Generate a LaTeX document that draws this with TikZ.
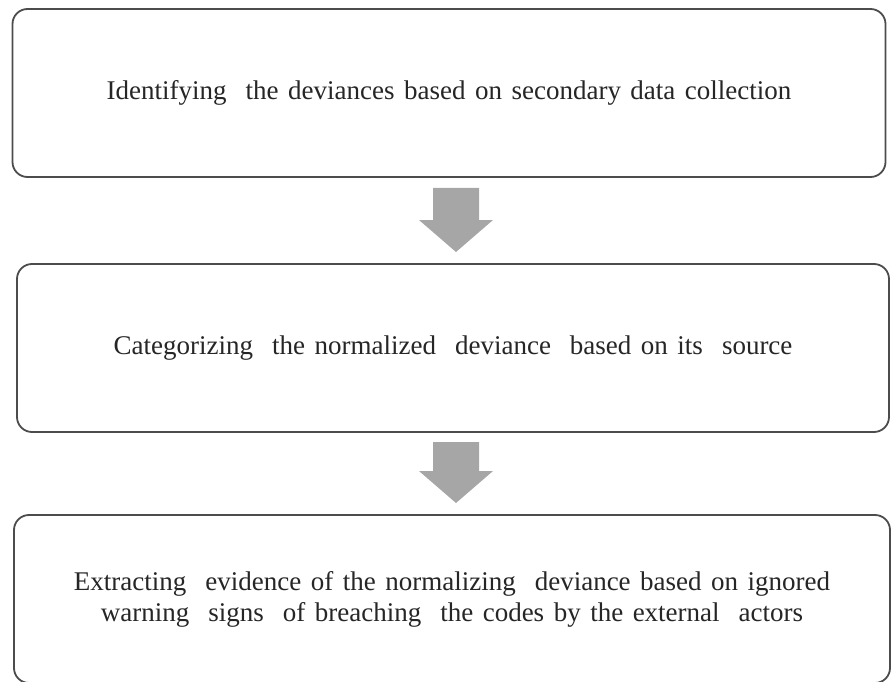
\documentclass[tikz,border=0pt]{standalone}
\usepackage{fontspec}
\setmainfont{Liberation Serif}
\usetikzlibrary{calc}
\newcommand\stepfont{\fontsize{27}{31}\selectfont\spaceskip=9.5pt\relax}
\begin{document}
\begin{tikzpicture}[x=1pt,y=-1pt,
  stepbox/.style={draw=black!70,line width=1.8pt,rounded corners=15pt,fill=white,
    inner sep=0pt,align=center,font=\stepfont,text=black!85},
  blockarrow/.style={fill=black!35,draw=none}]
\useasboundingbox (0,0) rectangle (892,682);
\clip (0,0) rectangle (892,682);
\node[stepbox,minimum width=873pt,minimum height=168pt] (b1) at (449,93)
  {Identifying \ the deviances based on secondary data collection};
\node[stepbox,minimum width=872pt,minimum height=168pt] (b2) at (453,348)
  {Categorizing \ the normalized \ deviance \ based on its \ source};
\node[stepbox,minimum width=876pt,minimum height=168pt] (b3) at (452,599)
  {Extracting \ evidence of the normalizing \ deviance based on ignored\\
   warning \ signs \ of breaching \ the codes by the external \ actors};
\coordinate (a1) at (456,188);
\coordinate (a2) at (456,442);
\foreach \a/\len in {a1/64,a2/61}{
  \fill[blockarrow] ($(\a)+(-23,0)$) -- ++(46,0) -- ++(0,\len-32) -- ++(14,0)
    -- ($(\a)+(0,\len)$) -- ($(\a)+(-37,\len-32)$) -- ++(14,0) -- cycle;
}
\end{tikzpicture}
\end{document}
